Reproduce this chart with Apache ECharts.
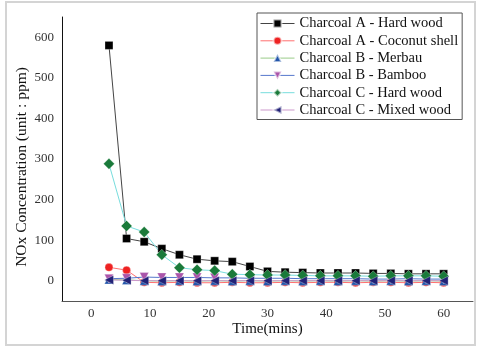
<!DOCTYPE html>
<html>
<head>
<meta charset="utf-8">
<script src="https://cdn.jsdelivr.net/npm/echarts@6/dist/echarts.min.js"></script>
<style>
  html, body { margin: 0; padding: 0; background: #fff; }
  #chart { width: 477px; height: 347px; }
</style>
</head>
<body>
<div id="chart"></div>
<script>
const timeMins = [3, 6, 9, 12, 15, 18, 21, 24, 27, 30, 33, 36, 39, 42, 45, 48, 51, 54, 57, 60];

const hardWoodA = [580, 104, 96, 79, 64, 53, 49, 47, 35, 23, 21, 20, 19, 19, 19, 18, 18, 17, 17, 17];
const coconutShellA = [33, 26, -4, -5, -4, -5, -5, -4, -5, -5, -4, -5, -4, -4, -5, -4, -4, -5, -4, -5];
const merbauB = [3, 2, 0, -1, 0, -1, 0, -1, 0, -1, 0, -1, 0, -1, 0, -1, 0, -1, 0, -1];
const bambooB = [5, 6, 9, 8, 8, 8, 7, 7, 6, 6, 6, 5, 5, 5, 5, 4, 4, 5, 4, 4];
const hardWoodC = [288, 135, 120, 64, 32, 27, 25, 16, 15, 14, 14, 13, 12, 12, 12, 11, 12, 12, 12, 11];
const mixedWoodC = [2, 1, 0, 0, 0, 0, 0, 0, 0, 0, 0, 0, 0, 0, 0, 0, 0, 0, 0, 0];

const font = "'Liberation Serif', 'DejaVu Serif', serif";

const seriesStyles = [
  { name: "Charcoal A - Hard wood", values: hardWoodA, line: "#444", marker: "#000", symbol: "rect", size: 8, rotate: 0 },
  { name: "Charcoal A - Coconut shell", values: coconutShellA, line: "#ff7070", marker: "#ee2222", symbol: "circle", size: 8, rotate: 0 },
  { name: "Charcoal B - Merbau", values: merbauB, line: "#99cc88", marker: "#2255aa", symbol: "triangle", size: 9, rotate: 0 },
  { name: "Charcoal B - Bamboo", values: bambooB, line: "#5577cc", marker: "#aa55aa", symbol: "triangle", size: 9, rotate: 180 },
  { name: "Charcoal C - Hard wood", values: hardWoodC, line: "#77dddd", marker: "#1a7a3a", symbol: "diamond", size: 11, rotate: 0 },
  { name: "Charcoal C - Mixed wood", values: mixedWoodC, line: "#cc99cc", marker: "#222277", symbol: "triangle", size: 9, rotate: 90 },
];

function pairs(values) {
  return timeMins.map((t, i) => [t, values[i]]);
}

const chart = echarts.init(document.getElementById("chart"));
chart.setOption({
  backgroundColor: "#fff",
  animation: false,
  graphic: [
    {
      type: "rect",
      shape: { x: 6, y: 2, width: 469, height: 343 },
      style: { fill: "none", stroke: "#d4d4d4", lineWidth: 2 },
      silent: true,
    },
  ],
  grid: { left: 62, right: 4, top: 17, bottom: 46 },
  legend: {
    orient: "vertical",
    left: 257,
    top: 13,
    padding: [3, 4, 2, 3],
    itemGap: 2.3,
    itemWidth: 34,
    itemHeight: 10,
    borderColor: "#555",
    borderWidth: 1,
    textStyle: { fontFamily: font, fontSize: 14.5, color: "#111" },
    data: seriesStyles.map((s) => ({
      name: s.name,
      itemStyle: { color: s.marker },
      lineStyle: { color: s.line, width: 1 },
    })),
  },
  xAxis: {
    type: "value",
    min: -5,
    max: 65,
    interval: 5,
    name: "Time(mins)",
    nameLocation: "middle",
    nameGap: 21,
    nameMoveOverlap: false,
    nameTextStyle: { fontFamily: font, fontSize: 15, color: "#111" },
    axisLine: { onZero: false, lineStyle: { color: "#555", width: 1 } },
    axisTick: { show: false },
    splitLine: { show: false },
    axisLabel: {
      fontFamily: font,
      fontSize: 13,
      color: "#333",
      margin: 6,
      formatter: (v) => (v >= 0 && v <= 60 && v % 10 === 0 ? String(v) : ""),
    },
  },
  yAxis: {
    type: "value",
    min: -50,
    max: 650,
    interval: 50,
    name: "NOx Concentration (unit : ppm)",
    nameLocation: "middle",
    nameGap: 32,
    nameMoveOverlap: false,
    nameTextStyle: { fontFamily: font, fontSize: 15.5, color: "#111", padding: [0, 16, 0, 0] },
    axisLine: { show: true, onZero: false, lineStyle: { color: "#111", width: 1 } },
    axisTick: { show: false },
    splitLine: { show: false },
    axisLabel: {
      fontFamily: font,
      fontSize: 13,
      color: "#333",
      margin: 8,
      formatter: (v) => (v >= 0 && v <= 600 && v % 100 === 0 ? String(v) : ""),
    },
  },
  series: seriesStyles.map((s) => ({
    name: s.name,
    type: "line",
    data: pairs(s.values),
    symbol: s.symbol,
    symbolSize: s.size,
    symbolRotate: s.rotate,
    lineStyle: { color: s.line, width: 1 },
    itemStyle: { color: s.marker, borderColor: "rgba(255,255,255,0.6)", borderWidth: 0.5 },
    emphasis: { disabled: true },
  })),
});
</script>
</body>
</html>
